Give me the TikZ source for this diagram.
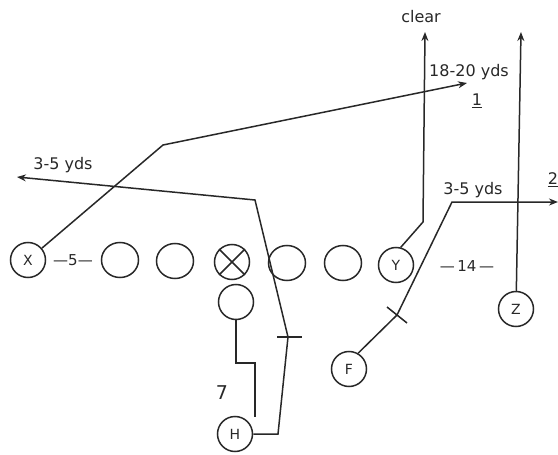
\documentclass[tikz,border=0pt]{standalone}
\usepackage{fontspec}
\setmainfont{DejaVu Sans}
\usetikzlibrary{arrows.meta,shapes.geometric}
\definecolor{ink}{RGB}{40,40,40}
\tikzset{
  player/.style={draw=ink, line width=1.5pt, circle, minimum size=35pt, inner sep=0pt, font=\fontsize{14}{14}\selectfont, text=ink},
  lineman/.style={draw=ink, line width=1.5pt, ellipse, minimum width=37pt, minimum height=35pt, inner sep=0pt},
  route/.style={draw=ink, line width=1.5pt, line join=miter},
  arr/.style={-{Stealth[length=9pt,width=7pt]}},
  lbl/.style={text=ink, font=\fontsize{16}{16}\selectfont, inner sep=0pt},
  small/.style={text=ink, font=\fontsize{15}{15}\selectfont, inner sep=0pt}
}
\begin{document}
\begin{tikzpicture}[x=1pt,y=-1pt]
\useasboundingbox (0,0) rectangle (558,455);
% players
\node[player] (X) at (28,260) {X};
\node[lineman] (L1) at (120,260) {};
\node[lineman] (L2) at (175,261) {};
\node[player] (C) at (232,262) {};
\draw[ink, line width=1.5pt] (C.north east) -- (C.south west) (C.north west) -- (C.south east);
\node[lineman] (R1) at (287,263) {};
\node[lineman] (R2) at (343,263) {};
\node[player] (Y) at (396,265) {Y};
\node[player] (Z) at (516,309) {Z};
\node[player] (B) at (236,302) {};
\node[player] (F) at (349,369) {F};
\node[player] (H) at (235,434) {H};
% spacing labels
\node[small] (s5) at (73,260) {—5—};
\node[small] (s14) at (467,266) {—\,14\,—};
\node[text=ink, font=\fontsize{19}{19}\selectfont, inner sep=0pt] (n7) at (222,393) {7};
% X route
\coordinate (x1) at (163,145);
\coordinate (x2) at (467,83);
\draw[route,arr] (X) -- (x1) -- (x2);
\node[lbl] (t1820) at (469,72) {18-20 yds};
\node[lbl] (t1) at (477,101) {\underline{1}};
% H route
\coordinate (h1) at (278,434);
\coordinate (h2) at (288,337);
\coordinate (h3) at (255,200);
\coordinate (h4) at (17,177);
\draw[route,arr] (H.east) -- (h1) -- (h2) -- (h3) -- (h4);
\draw[route] (h2) ++(-11,0) -- ++(25,0);
\node[lbl] (t35a) at (63,165) {3-5 yds};
% Y route
\coordinate (y1) at (423,222);
\coordinate (y2) at (425,32);
\draw[route,arr] (Y.75) -- (y1) -- (y2);
\node[lbl] (tclear) at (421,17) {clear};
% F route
\coordinate (f1) at (397,315);
\coordinate (f2) at (452,202);
\coordinate (f3) at (558,202);
\draw[route,arr] (F.60) -- (f1) -- (f2) -- (f3);
\draw[route] (f1) ++(-10,-8) -- ++(20,16);
\node[lbl] (t35b) at (473,190) {3-5 yds};
\node[lbl] (t2) at (553,180) {\underline{2}};
% Z route
\coordinate (z1) at (521,32);
\draw[route,arr] (Z) -- (z1);
% back block bracket
\coordinate (b1) at (236,363);
\coordinate (b2) at (255,363);
\coordinate (b3) at (255,417);
\draw[route] (B.south) -- (b1) -- (b2) -- (b3);
\end{tikzpicture}
\end{document}
